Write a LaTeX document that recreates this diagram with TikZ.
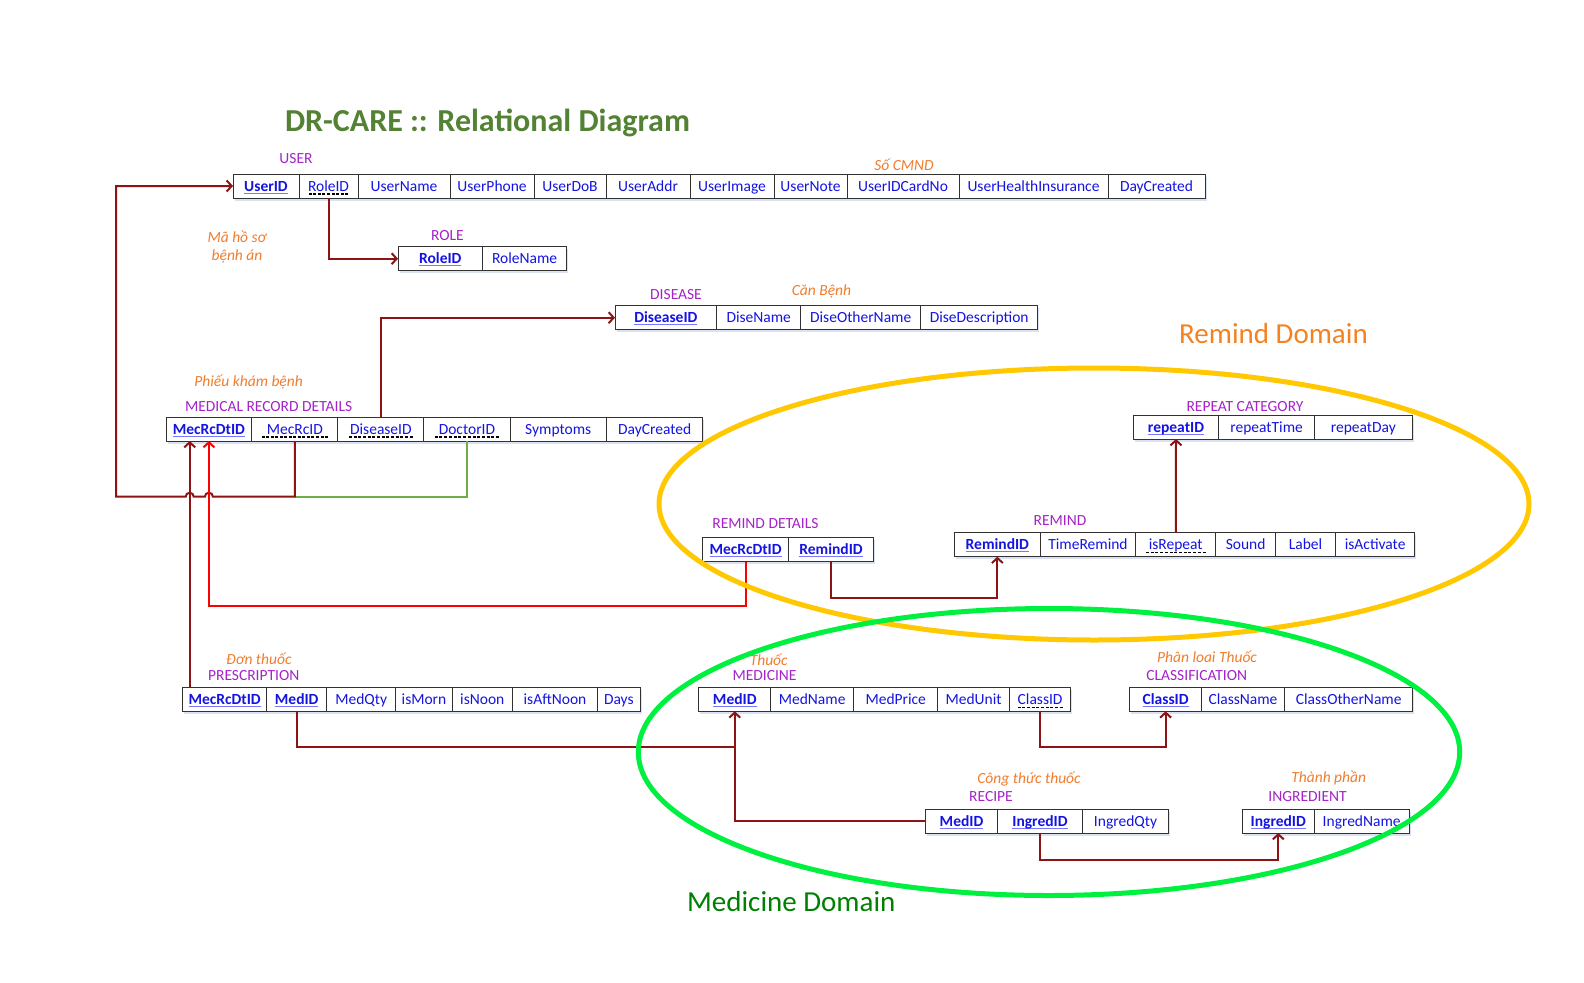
\documentclass[tikz,border=0pt]{standalone}
\usepackage{fontspec}
\setmainfont{Carlito}
\usetikzlibrary{arrows.meta,calc,shadows}
\definecolor{tblue}{RGB}{20,20,225}
\definecolor{pkul}{RGB}{120,120,255}
\definecolor{lblpurple}{RGB}{165,35,200}
\definecolor{noteorange}{RGB}{240,125,45}
\definecolor{titlegreen}{RGB}{84,130,53}
\definecolor{darkred}{RGB}{140,20,20}
\definecolor{linkred}{RGB}{255,0,0}
\definecolor{linkgreen}{RGB}{112,173,71}
\definecolor{domyellow}{RGB}{255,200,0}
\definecolor{domgreen}{RGB}{0,240,64}
\definecolor{domorange}{RGB}{245,130,32}
\definecolor{medgreen}{RGB}{0,128,0}
\definecolor{shadowc}{RGB}{218,225,240}
\definecolor{cellborder}{RGB}{50,50,50}
\newcommand\pk[1]{\setbox0\hbox{\bfseries #1}\rlap{\color{pkul}\vrule height -1.6pt depth 2.7pt width \wd0}\box0}
\newcommand\fk[2][0pt]{\setbox0\hbox{#2}\kern-#1\rlap{\color{black}\hbox to \dimexpr\wd0+#1+#1\relax{\xleaders\hbox to 4.5pt{\hss\vrule height -2.4pt depth 3.5pt width 3pt\hss}\hfill}}\kern#1\box0}
\newcommand\tcell[5]{\node[cell, minimum width={#3pt-#2pt}, anchor=north west] (#1) at (#2,#4) {#5};}
\begin{document}
\begin{tikzpicture}[x=1pt,y=-1pt,
  cell/.style={draw=cellborder, line width=1pt, fill=white, text=tblue,
    font=\fontsize{15.5}{18}\selectfont, inner sep=0pt, outer sep=0pt,
    minimum height=24pt, text height=12.5pt, text depth=2.5pt,
    general shadow={shadow xshift=1.5pt, shadow yshift=-2.5pt, fill=shadowc}},
  lbl/.style={text=lblpurple, font=\fontsize{15.5}{18}\selectfont, inner sep=0pt, anchor=base},
  note/.style={text=noteorange, font=\fontsize{15.5}{18}\selectfont\itshape, inner sep=0pt, anchor=base},
  rel/.style={draw=darkred, line width=2pt, -{Straight Barb[length=5pt,width=11pt]}},
  dom/.style={line width=5pt}]
\useasboundingbox (0,0) rectangle (1584,982);
\fill[white] (0,0) rectangle (1584,982);

% title and domain names
\node[anchor=base, inner sep=0pt, text=titlegreen, font=\fontsize{32}{38}\selectfont\bfseries] (title) at (487.5,131) {DR-CARE :: Relational Diagram};
\node[anchor=base, inner sep=0pt, text=domorange, font=\fontsize{29}{34}\selectfont] (remdom) at (1273.5,343.3) {Remind Domain};
\node[anchor=base, inner sep=0pt, text=medgreen, font=\fontsize{29}{34}\selectfont] (meddom) at (791.3,911.7) {Medicine Domain};

% labels
\node[lbl] (l-user) at (296,163.3) {USER};
\node[note] (n-user) at (904,170) {Số CMND};
\node[lbl] (l-role) at (447.5,240) {ROLE};
\node[note] (n-mhs1) at (237,242) {Mã hồ sơ};
\node[note] (n-mhs2) at (237,260) {bệnh án};
\node[lbl] (l-dis) at (676,299) {DISEASE};
\node[note] (n-dis) at (821.5,295) {Căn Bệnh};
\node[note] (n-mrd) at (248.6,386) {Phiếu khám bệnh};
\node[lbl] (l-mrd) at (268.6,411) {MEDICAL RECORD DETAILS};
\node[lbl] (l-rd) at (765.4,528.5) {REMIND DETAILS};
\node[lbl] (l-rem) at (1060,525.5) {REMIND};
\node[lbl] (l-rep) at (1245,411) {REPEAT CATEGORY};
\node[note] (n-pres) at (258.8,664) {Đơn thuốc};
\node[lbl] (l-pres) at (253.7,680.5) {PRESCRIPTION};
\node[note] (n-med) at (768.7,665.5) {Thuốc};
\node[lbl] (l-med) at (764.5,680.5) {MEDICINE};
\node[note] (n-cls) at (1207,662.5) {Phân loai Thuốc};
\node[lbl] (l-cls) at (1196.7,680.5) {CLASSIFICATION};
\node[note] (n-rec) at (1029,783) {Công thức thuốc};
\node[lbl] (l-rec) at (991,801.5) {RECIPE};
\node[note] (n-ing) at (1328.7,782) {Thành phần};
\node[lbl] (l-ing) at (1307.5,801.5) {INGREDIENT};

% USER
\tcell{user-UserID}{233}{299}{174}{\pk{UserID}}
\tcell{user-RoleID}{299}{358}{174}{\fk{RoleID}}
\tcell{user-UserName}{358}{450}{174}{UserName}
\tcell{user-UserPhone}{450}{534}{174}{UserPhone}
\tcell{user-UserDoB}{534}{606}{174}{UserDoB}
\tcell{user-UserAddr}{606}{690}{174}{UserAddr}
\tcell{user-UserImage}{690}{774}{174}{UserImage}
\tcell{user-UserNote}{774}{847}{174}{UserNote}
\tcell{user-UserIDCardNo}{847}{959}{174}{UserIDCardNo}
\tcell{user-UserHealthInsurance}{959}{1108}{174}{UserHealthInsurance}
\tcell{user-DayCreated}{1108}{1205}{174}{DayCreated}
% ROLE
\tcell{role-RoleID}{398}{482.6}{246.7}{\pk{RoleID}}
\tcell{role-RoleName}{482.6}{566.5}{246.7}{RoleName}
% DISEASE
\tcell{dis-DiseaseID}{615}{716.7}{305.7}{\pk{DiseaseID}}
\tcell{dis-DiseName}{716.7}{800.7}{305.7}{DiseName}
\tcell{dis-DiseOtherName}{800.7}{920.7}{305.7}{DiseOtherName}
\tcell{dis-DiseDescription}{920.7}{1037.7}{305.7}{DiseDescription}
% MEDICAL RECORD DETAILS
\tcell{mrd-MecRcDtID}{166}{251.8}{417}{\pk{MecRcDtID}}
\tcell{mrd-MecRcID}{251.8}{337.9}{417}{\fk[6pt]{MecRcID}}
\tcell{mrd-DiseaseID}{337.9}{423.9}{417}{\fk[2pt]{DiseaseID}}
\tcell{mrd-DoctorID}{423.9}{510}{417}{\fk[5pt]{DoctorID}}
\tcell{mrd-Symptoms}{510}{606.4}{417}{Symptoms}
\tcell{mrd-DayCreated}{606.4}{702.9}{417}{DayCreated}
% REMIND DETAILS
\tcell{rd-MecRcDtID}{702.7}{788.5}{537.7}{\pk{MecRcDtID}}
\tcell{rd-RemindID}{788.5}{873.5}{537.7}{\pk{RemindID}}
% REMIND
\tcell{rem-RemindID}{954.7}{1040}{532.7}{\pk{RemindID}}
\tcell{rem-TimeRemind}{1040}{1135.9}{532.7}{TimeRemind}
\tcell{rem-isRepeat}{1135.9}{1215.6}{532.7}{\fk[4pt]{isRepeat}}
\tcell{rem-Sound}{1215.6}{1275.6}{532.7}{Sound}
\tcell{rem-Label}{1275.6}{1335.5}{532.7}{Label}
\tcell{rem-isActivate}{1335.5}{1414.8}{532.7}{isActivate}
% REPEAT CATEGORY
\tcell{rep-repeatID}{1133.5}{1218.5}{415}{\pk{repeatID}}
\tcell{rep-repeatTime}{1218.5}{1314.7}{415}{repeatTime}
\tcell{rep-repeatDay}{1314.7}{1412}{415}{repeatDay}
% PRESCRIPTION
\tcell{pres-MecRcDtID}{182.7}{266.7}{687.3}{\pk{MecRcDtID}}
\tcell{pres-MedID}{266.7}{326.7}{687.3}{\pk{MedID}}
\tcell{pres-MedQty}{326.7}{395.7}{687.3}{MedQty}
\tcell{pres-isMorn}{395.7}{452.3}{687.3}{isMorn}
\tcell{pres-isNoon}{452.3}{512.3}{687.3}{isNoon}
\tcell{pres-isAftNoon}{512.3}{597.7}{687.3}{isAftNoon}
\tcell{pres-Days}{597.7}{640}{687.3}{Days}
% MEDICINE
\tcell{med-MedID}{698.9}{770.6}{687.3}{\pk{MedID}}
\tcell{med-MedName}{770.6}{853.7}{687.3}{MedName}
\tcell{med-MedPrice}{853.7}{937.7}{687.3}{MedPrice}
\tcell{med-MedUnit}{937.7}{1009.4}{687.3}{MedUnit}
\tcell{med-ClassID}{1009.4}{1070.8}{687.3}{\fk[1pt]{ClassID}}
% CLASSIFICATION
\tcell{cls-ClassID}{1129.7}{1201.5}{687.3}{\pk{ClassID}}
\tcell{cls-ClassName}{1201.5}{1284.5}{687.3}{ClassName}
\tcell{cls-ClassOtherName}{1284.5}{1412.9}{687.3}{ClassOtherName}
% RECIPE
\tcell{rec-MedID}{925.7}{997.3}{809}{\pk{MedID}}
\tcell{rec-IngredID}{997.3}{1082.7}{809}{\pk{IngredID}}
\tcell{rec-IngredQty}{1082.7}{1168.3}{809}{IngredQty}
% INGREDIENT
\tcell{ing-IngredID}{1242.3}{1314.3}{809}{\pk{IngredID}}
\tcell{ing-IngredName}{1314.3}{1409}{809}{IngredName}

% helper coordinates
\coordinate (bus) at ($(mrd-MecRcID.south)+(0,55.7)$);
\coordinate (busL) at (116,496.7);
\coordinate (pa) at ($(pres-MecRcDtID.north west)+(7,0)$);

% connectors
\draw[rel] (user-RoleID.south) |- (role-RoleID.west);
\draw[rel] (mrd-DiseaseID.north) |- (dis-DiseaseID.west);
\draw[draw=linkgreen, line width=1.6pt] (mrd-DoctorID.south) |- (bus);
\draw[rel] (mrd-MecRcID.south) -- (bus)
  -- ($(mrd-MecRcDtID.south|-bus)+(4,0)$) arc[start angle=0,end angle=180,radius=4pt]
  -- ($(pa|-bus)+(4,0)$) arc[start angle=0,end angle=180,radius=4pt]
  -- (busL) |- (user-UserID.west);
\draw[rel] (pa) -- (pa|-mrd-MecRcDtID.south);
\draw[rel, draw=linkred] (rd-MecRcDtID.south) -- ++(0,44) -| (mrd-MecRcDtID.south);
\draw[rel] (rd-RemindID.south) -- ++(0,36) -| (rem-RemindID.south);
\draw[rel] (rem-isRepeat.north) -- (rep-repeatID.south);
\draw[draw=darkred, line width=2pt] (pres-MedID.south) |- (med-MedID.south|-0,746.7);
\draw[rel] (rec-MedID.west) -| (med-MedID.south);
\draw[rel] (med-ClassID.south) -- ++(0,35.7) -| (cls-ClassID.south);
\draw[rel] (rec-IngredID.south) -- ++(0,26.7) -| (ing-IngredID.south);

% domains
\draw[dom, draw=domyellow] (1094,504) ellipse [x radius=435, y radius=136];
\draw[dom, draw=domgreen] (1049,752) ellipse [x radius=410.7, y radius=143.5];
\end{tikzpicture}
\end{document}
